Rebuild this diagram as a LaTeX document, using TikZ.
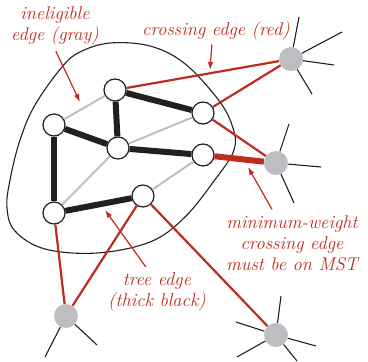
\documentclass[tikz,border=0pt]{standalone}
\usetikzlibrary{arrows.meta}
\definecolor{cutred}{HTML}{BE2B20}
\definecolor{edgegray}{HTML}{C0C0C0}
\definecolor{vtxgray}{HTML}{BDBEC1}
\definecolor{treeblack}{HTML}{231F20}
\tikzset{
  vtx/.style={circle, draw=treeblack, fill=white, line width=1.2pt, minimum size=22pt, inner sep=0pt},
  far/.style={circle, fill=vtxgray, minimum size=24pt, inner sep=0pt},
  tree/.style={treeblack, line width=6pt},
  inel/.style={edgegray, line width=2pt},
  cross/.style={cutred, line width=2.2pt},
  spoke/.style={treeblack, line width=1.1pt},
  callout/.style={cutred, line width=1.2pt, shorten <=2pt, -{Latex[length=8pt,width=5.5pt]}},
  lbl/.style={cutred, align=center, inner sep=2pt, font=\fontsize{18.5}{21}\selectfont\itshape}
}
\begin{document}
\begin{tikzpicture}[x=1pt,y=-1pt]
    \useasboundingbox (0,0) rectangle (368,362);
    % the cut
    \draw[treeblack, line width=1.1pt] plot[smooth cycle, tension=0.6] coordinates {
      (7,208) (15,231) (45,249) (97,253) (150,242) (184,218) (214,181)
      (234,150) (232,125) (217,98) (184,63) (150,46) (110,43) (80,52)
      (62,67) (35,105) (20,140) (10,180)};
    % vertices
    \node[vtx] (a) at (115,90) {};
    \node[vtx] (b) at (54,125) {};
    \node[vtx] (c) at (118,148) {};
    \node[vtx] (d) at (203,113) {};
    \node[vtx] (e) at (203,155) {};
    \node[vtx] (f) at (54,213) {};
    \node[vtx] (g) at (143,196) {};
    \node[far] (o1) at (291,59) {};
    \node[far] (o2) at (276,163) {};
    \node[far] (o3) at (66,316) {};
    \node[far] (o4) at (276,335) {};
    % edges
    \draw[inel] (a) -- (b);
    \draw[inel] (c) -- (d);
    \draw[inel] (c) -- (f);
    \draw[inel] (g) -- (e);
    \draw[tree] (a) -- (d);
    \draw[tree] (a) -- (c);
    \draw[tree] (b) -- (c);
    \draw[tree] (c) -- (e);
    \draw[tree] (b) -- (f);
    \draw[tree] (f) -- (g);
    \draw[cross] (a) -- (o1);
    \draw[cross] (d) -- (o1);
    \draw[cross] (d) -- (o2);
    \draw[cross, line width=6pt] (e) -- (o2);
    \draw[cross] (f) -- (o3);
    \draw[cross] (g) -- (o3);
    \draw[cross] (g) -- (o4);
    % rest of the graph
    \foreach \p in {(299,17),(342,32),(334,65),(312,94)}
      \draw[spoke] (o1) -- \p;
    \foreach \p in {(289,124),(321,167),(294,203)}
      \draw[spoke] (o2) -- \p;
    \foreach \p in {(45,357),(97,345)}
      \draw[spoke] (o3) -- \p;
    \foreach \p in {(281,296),(236,322),(316,346),(237,357),(297,361)}
      \draw[spoke] (o4) -- \p;
    % labels
    \node[lbl] (lbli) at (55,26) {ineligible\\edge (gray)};
    \node[lbl] (lblc) at (216,31) {crossing edge (red)};
    \node[lbl] (lblm) at (292,243) {minimum-weight\\crossing edge\\must be on MST};
    \node[lbl] (lblt) at (157,292) {tree edge\\(thick black)};
    \coordinate (tipi) at (80,102);
    \coordinate (tipc) at (210,70);
    \coordinate (tipm) at (248,167);
    \coordinate (tipt) at (105,210);
    \draw[callout] ([yshift=-2pt]lbli.south) -- (tipi);
    \draw[callout] ([xshift=-4pt]lblc.south) -- (tipc);
    \draw[callout] ([xshift=-19pt,yshift=2pt]lblm.north) -- (tipm);
    \draw[callout] ([xshift=-10pt,yshift=2pt]lblt.north) -- (tipt);
\end{tikzpicture}
\end{document}
